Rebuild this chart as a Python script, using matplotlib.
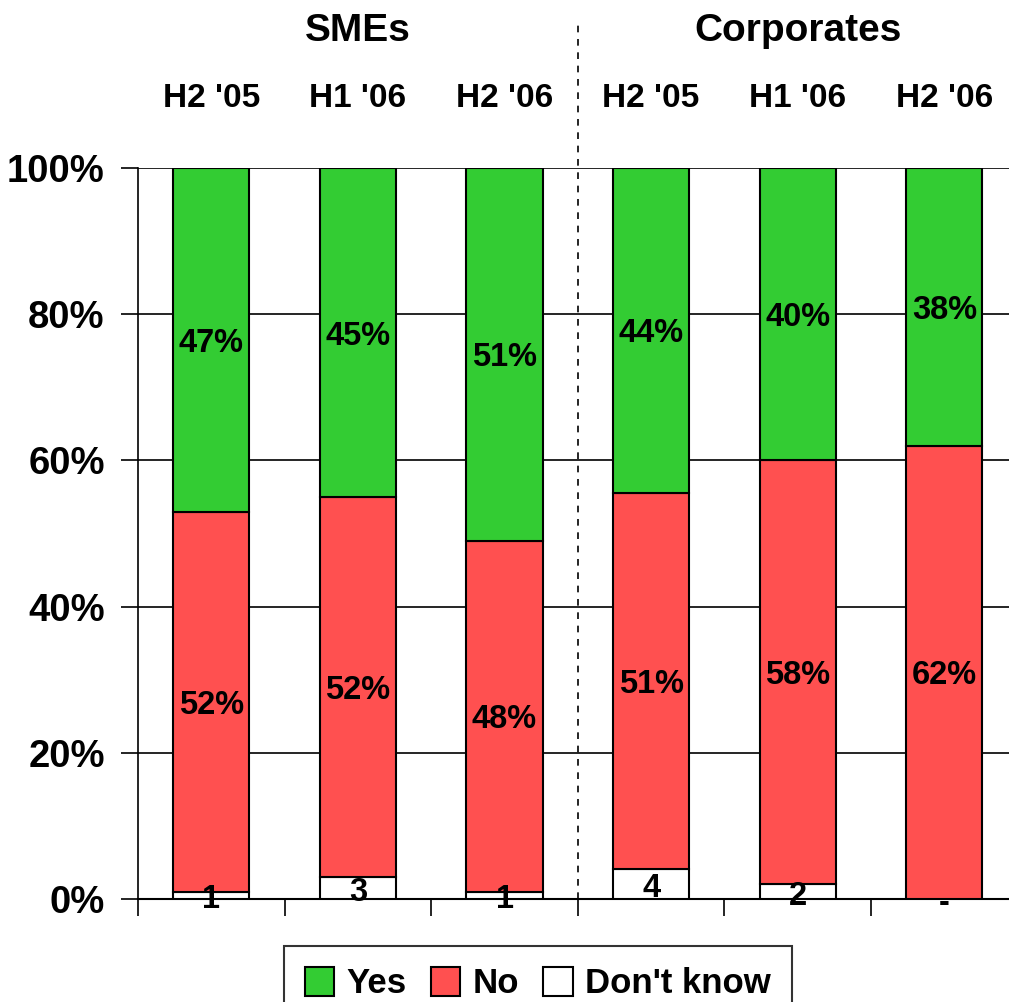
import matplotlib.pyplot as plt
import numpy as np

plt.rcParams['font.family'] = ['Liberation Sans', 'DejaVu Sans']
plt.rcParams['font.weight'] = 'bold'

groups = ["SMEs", "Corporates"]
periods = ["H2 '05", "H1 '06", "H2 '06", "H2 '05", "H1 '06", "H2 '06"]
dont_know = [1, 3, 1, 4, 2, 0]
no = [52, 52, 48, 51, 58, 62]
yes = [47, 45, 51, 44, 40, 38]

green = "#33CC33"
red = "#FF5050"

dk = np.array(dont_know, dtype=float)
n = np.array(no, dtype=float)
y = np.array(yes, dtype=float)
total = dk + n + y
dk_h = dk / total * 100
n_h = n / total * 100
y_h = y / total * 100

x = np.arange(len(periods))
w = 0.52

fig = plt.figure(figsize=(10.09, 10.02), dpi=100)
ax = fig.add_axes([0.1368, 0.1028, 0.8717, 0.7295])

ax.bar(x, dk_h, w, color="white", edgecolor="black", linewidth=1.5, label="Don't know", zorder=3)
ax.bar(x, n_h, w, bottom=dk_h, color=red, edgecolor="black", linewidth=1.5, label="No", zorder=3)
ax.bar(x, y_h, w, bottom=dk_h + n_h, color=green, edgecolor="black", linewidth=1.5, label="Yes", zorder=3)

ax.set_xlim(-0.5, len(periods) - 0.5)
ax.set_ylim(0, 100)
ax.set_yticks(np.arange(0, 101, 20))
ax.set_yticklabels([f"{v}%" for v in range(0, 101, 20)], fontsize=27.5, fontweight='bold')
ax.yaxis.grid(True, color="black", linewidth=1.2, zorder=0)
ax.tick_params(axis='y', length=12, width=1.2, pad=12)

ax.set_xticks([])
ax.set_xticks(np.arange(-0.5, len(periods), 1), minor=True)
ax.tick_params(axis='x', which='minor', length=12, width=1.2, direction='out')
ax.tick_params(axis='x', which='major', length=0)
ax.set_xticklabels([], minor=True)

for side in ['top', 'right']:
    ax.spines[side].set_visible(False)
ax.spines['left'].set_linewidth(1.2)
ax.spines['bottom'].set_linewidth(1.5)

# value labels inside the segments
for i in range(len(periods)):
    ax.text(x[i], dk_h[i] + n_h[i] + y_h[i] / 2, f"{yes[i]}%", ha='center', va='center_baseline',
            fontsize=23.5, fontweight='bold', zorder=4)
    ax.text(x[i], dk_h[i] + n_h[i] / 2, f"{no[i]}%", ha='center', va='center_baseline',
            fontsize=23.5, fontweight='bold', zorder=4)
    lab = str(dont_know[i]) if dont_know[i] else "-"
    ax.text(x[i], dk_h[i] / 2 - 0.6, lab, ha='center', va='center',
            fontsize=23.5, fontweight='bold', zorder=4)

# period headers and group titles above the plot
for i, p in enumerate(periods):
    ax.text(x[i], 1.095, p, transform=ax.get_xaxis_transform(), ha='center', va='center',
            fontsize=24, fontweight='bold')
ax.text(1, 1.187, groups[0], transform=ax.get_xaxis_transform(), ha='center', va='center',
        fontsize=28, fontweight='bold')
ax.text(4, 1.187, groups[1], transform=ax.get_xaxis_transform(), ha='center', va='center',
        fontsize=28, fontweight='bold')

# dashed separator between the two groups
ax.plot([2.5, 2.5], [0, 1.2], transform=ax.get_xaxis_transform(), color="black",
        linestyle=(0, (4, 4)), linewidth=1.2, clip_on=False, zorder=5)

handles, labels = ax.get_legend_handles_labels()
leg = fig.legend(handles[::-1], labels[::-1], loc='upper center', bbox_to_anchor=(0.533, 0.056),
                 ncol=3, fontsize=25, frameon=True, fancybox=False, edgecolor="black",
                 handlelength=0.85, handleheight=0.9, handletextpad=0.35, columnspacing=0.7,
                 borderpad=0.6, borderaxespad=0)
leg.get_frame().set_linewidth(1.5)
for t in leg.get_texts():
    t.set_fontweight('bold')

fig.savefig("out.png", dpi=100)
